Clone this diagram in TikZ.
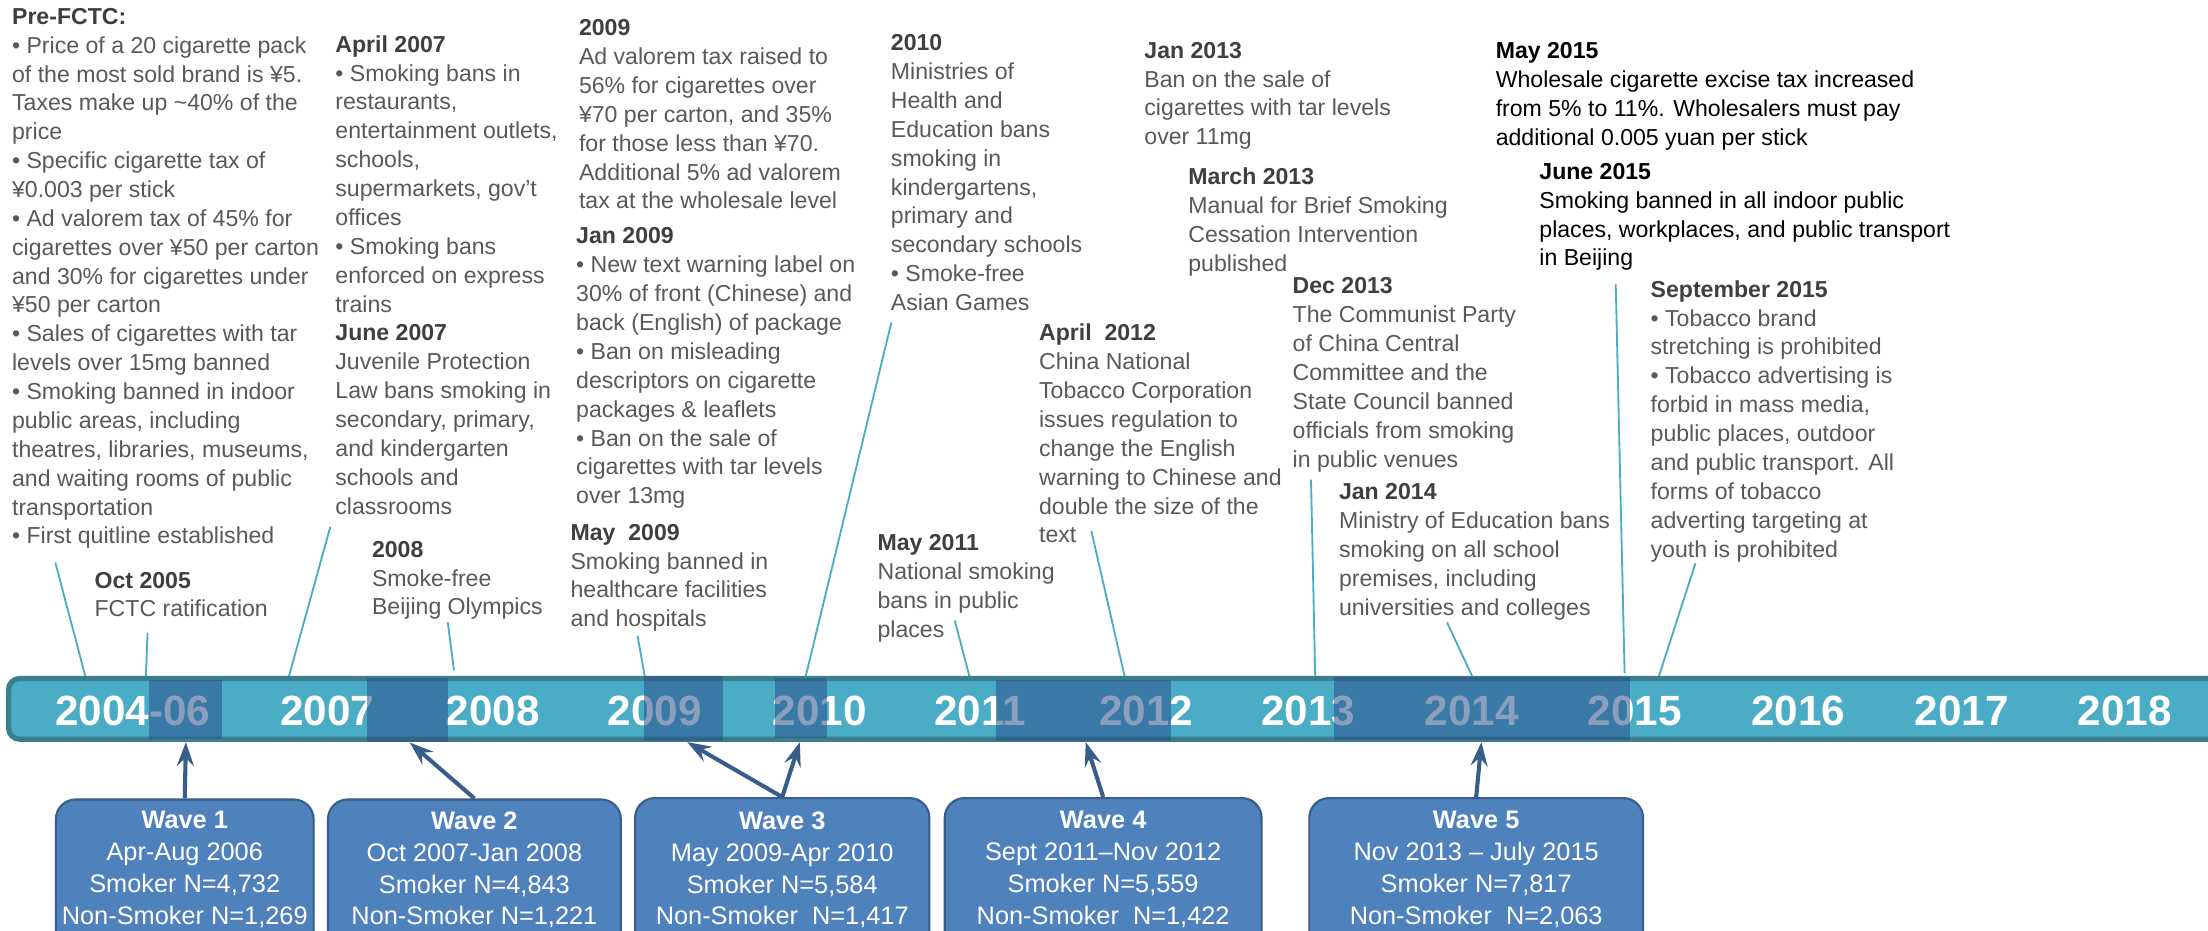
\documentclass[tikz,border=0pt]{standalone}
\usepackage{fontspec}
\setmainfont{Liberation Sans}
\usetikzlibrary{arrows.meta}
\definecolor{bodygray}{HTML}{595959}
\definecolor{headgray}{HTML}{3F3F3F}
\definecolor{barfill}{HTML}{4BACC6}
\definecolor{barline}{HTML}{3B7E8D}
\definecolor{shadecol}{HTML}{2C508A}
\definecolor{wavefill}{HTML}{4F81BD}
\definecolor{waveline}{HTML}{385D8A}
\definecolor{leadcol}{HTML}{4BACC6}
\newcommand\hdr[1]{{\bfseries\color{headgray}#1}}
\tikzset{
  txt/.style={anchor=north west, inner sep=0pt, align=left, text=bodygray,
    font=\fontsize{16.4pt}{20.5pt}\selectfont},
  blacktxt/.style={txt, text=black},
  leaderline/.style={draw=leadcol, line width=1.3pt},
  yearlbl/.style={anchor=base, inner sep=0pt, text=white,
    font=\fontsize{30pt}{30pt}\selectfont\bfseries},
  shadebox/.style={fill=shadecol, opacity=0.55},
  wavebox/.style={draw=waveline, fill=wavefill, line width=1.5pt, rounded corners=14pt,
    anchor=north, minimum height=130pt, inner sep=0pt},
  wavetext/.style={anchor=north, inner sep=0pt, align=center, text=white,
    font=\fontsize{18pt}{22.7pt}\selectfont},
  wavearrow/.style={draw=waveline, line width=2.9pt,
    -{Stealth[length=17pt,width=12pt,inset=6pt]}}
}
\begin{document}
\begin{tikzpicture}[x=1pt,y=-1pt]
\useasboundingbox (0,0) rectangle (1568,661);
\clip (0,0) rectangle (1568,661);
\fill[white] (0,0) rectangle (1568,661);

% ---------- text blocks ----------
\node[txt] (prefctc) at (8.4,5.6) {\hdr{Pre-FCTC:}\\
• Price of a 20 cigarette pack\\
of the most sold brand is ¥5.\\
Taxes make up \textasciitilde40\% of the\\
price\\
• Specific cigarette tax of\\
¥0.003 per stick\\
• Ad valorem tax of 45\% for\\
cigarettes over ¥50 per carton\\
and 30\% for cigarettes under\\
¥50 per carton\\
• Sales of cigarettes with tar\\
levels over 15mg banned\\
• Smoking banned in indoor\\
public areas, including\\
theatres, libraries, museums,\\
and waiting rooms of public\\
transportation\\
• First quitline established};

\node[txt] (apr07) at (238,25) {\hdr{April 2007}\\
• Smoking bans in\\
restaurants,\\
entertainment outlets,\\
schools,\\
supermarkets, gov’t\\
offices\\
• Smoking bans\\
enforced on express\\
trains\\
\hdr{June 2007}\\
Juvenile Protection\\
Law bans smoking in\\
secondary, primary,\\
and kindergarten\\
schools and\\
classrooms};

\node[txt] (oct05) at (67,406) {\hdr{Oct 2005}\\
FCTC ratification};

\node[txt] (y2008t) at (264,384) {\hdr{2008}\\
Smoke-free\\
Beijing Olympics};

\node[txt] (t2009) at (411,13.7) {\hdr{2009}\\
Ad valorem tax raised to\\
56\% for cigarettes over\\
¥70 per carton, and 35\%\\
for those less than ¥70.\\
Additional 5\% ad valorem\\
tax at the wholesale level};

\node[txt] (jan09) at (409,161.6) {\hdr{Jan 2009}\\
• New text warning label on\\
30\% of front (Chinese) and\\
back (English) of package\\
• Ban on misleading\\
descriptors on cigarette\\
packages \& leaflets\\
• Ban on the sale of\\
cigarettes with tar levels\\
over 13mg};

\node[txt] (may09) at (405,372) {\hdr{May\ \ 2009}\\
Smoking banned in\\
healthcare facilities\\
and hospitals};

\node[txt] (t2010) at (632.5,24.4) {\hdr{2010}\\
Ministries of\\
Health and\\
Education bans\\
smoking in\\
kindergartens,\\
primary and\\
secondary schools\\
• Smoke-free\\
Asian Games};

\node[txt] (apr12) at (737.7,230) {\hdr{April\ \ 2012}\\
China National\\
Tobacco Corporation\\
issues regulation to\\
change the English\\
warning to Chinese and\\
double the size of the\\
text};

\node[txt] (may11) at (623,379.6) {\hdr{May 2011}\\
National smoking\\
bans in public\\
places};

\node[txt] (jan13) at (812.5,29.7) {\hdr{Jan 2013}\\
Ban on the sale of\\
cigarettes with tar levels\\
over 11mg};

\node[txt] (mar13) at (843.7,119.2) {\hdr{March 2013}\\
Manual for Brief Smoking\\
Cessation Intervention\\
published};

\node[txt] (dec13) at (917.8,197) {\hdr{Dec 2013}\\
The Communist Party\\
of China Central\\
Committee and the\\
State Council banned\\
officials from smoking\\
in public venues};

\node[txt] (jan14) at (950.7,343.3) {\hdr{Jan 2014}\\
Ministry of Education bans\\
smoking on all school\\
premises, including\\
universities and colleges};

\node[blacktxt] (may15) at (1062,30.2) {\textbf{May 2015}\\
Wholesale cigarette excise tax increased\\
from 5\% to 11\%. Wholesalers must pay\\
additional 0.005 yuan per stick};

\node[blacktxt] (jun15) at (1093,115.7) {\textbf{June 2015}\\
Smoking banned in all indoor public\\
places, workplaces, and public transport\\
in Beijing};

\node[txt] (sep15) at (1172,199) {\hdr{September 2015}\\
• Tobacco brand\\
stretching is prohibited\\
• Tobacco advertising is\\
forbid in mass media,\\
public places, outdoor\\
and public transport. All\\
forms of tobacco\\
adverting targeting at\\
youth is prohibited};

% ---------- leader lines ----------
\coordinate (a1) at (39.3,399.5);   \coordinate (b1) at (60.8,481);
\coordinate (a2) at (104.8,449.3);  \coordinate (b2) at (103.6,481);
\coordinate (a3) at (234.6,374);    \coordinate (b3) at (205,481);
\coordinate (a4) at (318,442);      \coordinate (b4) at (322.4,476);
\coordinate (a5) at (452.8,451.7);  \coordinate (b5) at (458,481);
\coordinate (a6) at (633,229);      \coordinate (b6) at (572,481);
\coordinate (a7) at (678,440.6);    \coordinate (b7) at (688.6,481);
\coordinate (a8) at (775,377);      \coordinate (b8) at (798.8,481);
\coordinate (a9) at (931,340.6);    \coordinate (b9) at (934,481);
\coordinate (a10) at (1027.6,442);  \coordinate (b10) at (1045.8,481);
\coordinate (a11) at (1147.4,202);  \coordinate (b11) at (1153.7,478);
\coordinate (a12) at (1204,400);    \coordinate (b12) at (1177.8,481);
\foreach \i in {1,...,12} {\draw[leaderline] (a\i) -- (b\i);}

% ---------- timeline bar ----------
\draw[draw=barline, fill=barfill, line width=3.7pt, rounded corners=8pt]
  (6,481.85) rectangle (1590,524.95);

\node[yearlbl, anchor=base west] (y04) at (38.9,515) {2004-06};
\node[yearlbl] (y07) at (232.5,515) {2007};
\node[yearlbl] (y08) at (350,515) {2008};
\node[yearlbl] (y09) at (465,515) {2009};
\node[yearlbl] (y10) at (582,515) {2010};
\node[yearlbl] (y11) at (696,515) {2011};
\node[yearlbl] (y12) at (814,515) {2012};
\node[yearlbl] (y13) at (929,515) {2013};
\node[yearlbl] (y14) at (1045,515) {2014};
\node[yearlbl] (y15) at (1161,515) {2015};
\node[yearlbl] (y16) at (1277,515) {2016};
\node[yearlbl] (y17) at (1393,515) {2017};
\node[yearlbl] (y18) at (1509,515) {2018};

% ---------- wave period shading ----------
\fill[shadebox] (105.8,483) rectangle (157.4,525);
\fill[shadebox] (260.6,481.3) rectangle (317.9,526.7);
\fill[shadebox] (457.6,480) rectangle (513.3,526.3);
\fill[shadebox] (550.4,481.7) rectangle (587.1,524.4);
\fill[shadebox] (707.5,483) rectangle (831.5,526);
\fill[shadebox] (947,480.5) rectangle (1157.7,525.5);

% ---------- wave boxes ----------
\node[wavebox, minimum width=183pt] (w1) at (131.2,567) {};
\node[wavebox, minimum width=208pt] (w2) at (336.9,567) {};
\node[wavebox, minimum width=209pt] (w3) at (555.5,566) {};
\node[wavebox, minimum width=225pt] (w4) at (783.4,566) {};
\node[wavebox, minimum width=237pt] (w5) at (1048.3,566) {};

\node[wavetext] (w1t) at (131.2,576) {\textbf{Wave 1}\\Apr-Aug 2006\\Smoker N=4,732\\Non-Smoker N=1,269};
\node[wavetext] (w2t) at (336.9,576) {\textbf{Wave 2}\\Oct 2007-Jan 2008\\Smoker N=4,843\\Non-Smoker N=1,221};
\node[wavetext] (w3t) at (555.5,576) {\textbf{Wave 3}\\May 2009-Apr 2010\\Smoker N=5,584\\Non-Smoker\ \ N=1,417};
\node[wavetext] (w4t) at (783.4,576) {\textbf{Wave 4}\\Sept 2011–Nov 2012\\Smoker N=5,559\\Non-Smoker\ \ N=1,422};
\node[wavetext] (w5t) at (1048.3,576) {\textbf{Wave 5}\\Nov 2013 – July 2015\\Smoker N=7,817\\Non-Smoker\ \ N=2,063};

% ---------- arrows ----------
\coordinate (p1) at (132,527);
\coordinate (p2) at (291,527.3);
\coordinate (p3a) at (488,527);
\coordinate (p3b) at (568,527);
\coordinate (p4) at (771,527);
\coordinate (p5) at (1052,527);
\draw[wavearrow] (w1.north) -- (p1);
\draw[wavearrow] (w2.north) -- (p2);
\draw[wavearrow] (w3.north) -- (p3a);
\draw[wavearrow] (w3.north) -- (p3b);
\draw[wavearrow] (w4.north) -- (p4);
\draw[wavearrow] (w5.north) -- (p5);
\end{tikzpicture}
\end{document}
